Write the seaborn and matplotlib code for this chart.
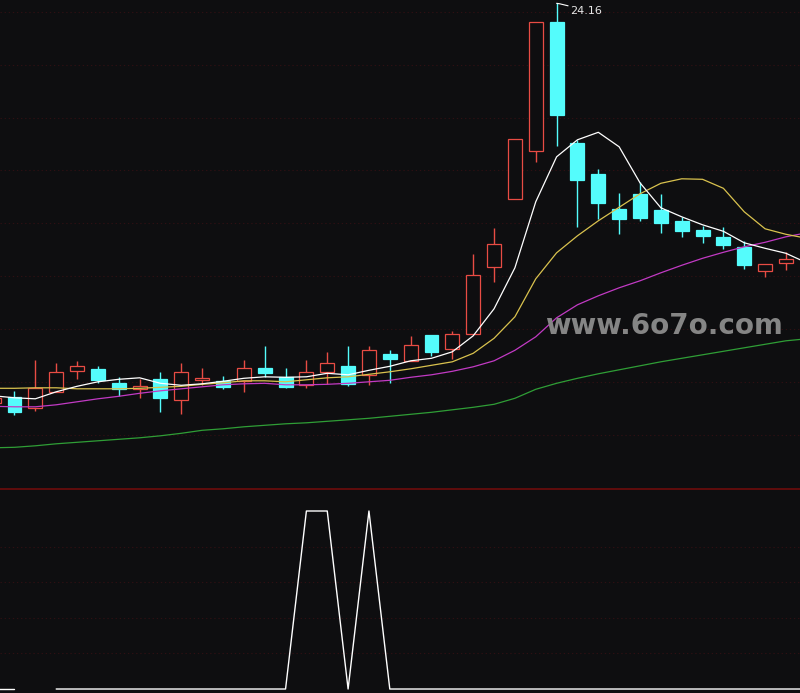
import numpy as np
import pandas as pd
import matplotlib
matplotlib.use("Agg")
import matplotlib.pyplot as plt
import seaborn as sns
from matplotlib.lines import Line2D

# ---------------- data ----------------
candle_day = list(range(-1, 38))
open_ = [16.17, 16.28, 16.07, 16.39, 16.81, 16.85, 16.57, 16.45, 16.65, 16.22,
         16.63, 16.60, 16.60, 16.87, 16.68, 16.53, 16.79, 16.91, 16.73, 17.15,
         17.00, 17.53, 17.24, 17.54, 18.88, 20.24, 21.21, 23.78, 21.37, 20.75,
         20.05, 20.35, 20.03, 19.81, 19.63, 19.49, 19.29, 18.81, 18.96]
close = [16.27, 15.99, 16.47, 16.78, 16.91, 16.63, 16.44, 16.51, 16.26, 16.78,
         16.67, 16.49, 16.87, 16.77, 16.49, 16.78, 16.97, 16.55, 17.23, 17.05,
         17.32, 17.19, 17.54, 18.72, 19.34, 21.44, 23.78, 21.93, 20.63, 20.17,
         19.85, 19.87, 19.77, 19.61, 19.51, 19.33, 18.93, 18.94, 19.05]
high = [16.31, 16.41, 17.03, 16.97, 17.01, 16.91, 16.68, 16.64, 16.79, 16.97,
        16.87, 16.71, 17.03, 17.31, 16.87, 17.03, 17.19, 17.31, 17.31, 17.23,
        17.51, 17.53, 17.61, 19.15, 19.66, 21.44, 23.78, 24.16, 21.43, 20.84,
        20.37, 20.59, 20.35, 19.88, 19.71, 19.68, 19.41, 18.94, 19.18]
low = [16.15, 15.93, 16.01, 16.39, 16.65, 16.57, 16.31, 16.26, 15.99, 15.95,
       16.53, 16.45, 16.39, 16.69, 16.46, 16.46, 16.54, 16.51, 16.53, 16.57,
       17.00, 17.11, 17.04, 17.54, 18.58, 20.24, 20.99, 21.31, 19.69, 19.85,
       19.55, 19.81, 19.57, 19.49, 19.37, 19.25, 18.85, 18.68, 18.83]

ma_day = list(range(-1, 39))
ma5 = [16.31, 16.27, 16.25, 16.39, 16.50, 16.59, 16.64, 16.67, 16.56, 16.52,
       16.55, 16.60, 16.66, 16.69, 16.68, 16.69, 16.76, 16.73, 16.82, 16.90,
       17.01, 17.06, 17.19, 17.51, 18.05, 18.87, 20.19, 21.09, 21.43, 21.58,
       21.29, 20.57, 20.07, 19.89, 19.73, 19.60, 19.37, 19.26, 19.16, 18.97]
ma10 = [16.46, 16.46, 16.47, 16.47, 16.45, 16.45, 16.45, 16.46, 16.48, 16.50,
        16.54, 16.57, 16.61, 16.61, 16.59, 16.63, 16.67, 16.69, 16.74, 16.79,
        16.85, 16.92, 16.99, 17.16, 17.46, 17.89, 18.65, 19.17, 19.51, 19.81,
        20.08, 20.35, 20.56, 20.65, 20.64, 20.46, 19.99, 19.65, 19.54, 19.46]
ma20 = [16.10, 16.09, 16.09, 16.13, 16.19, 16.25, 16.30, 16.36, 16.41, 16.45,
        16.49, 16.53, 16.55, 16.56, 16.53, 16.53, 16.54, 16.56, 16.59, 16.62,
        16.68, 16.73, 16.80, 16.89, 17.01, 17.22, 17.49, 17.87, 18.13, 18.31,
        18.47, 18.61, 18.77, 18.92, 19.06, 19.18, 19.29, 19.38, 19.49, 19.57]
ma60 = [15.27, 15.28, 15.31, 15.35, 15.38, 15.41, 15.44, 15.47, 15.51, 15.56,
        15.62, 15.65, 15.69, 15.72, 15.75, 15.77, 15.80, 15.83, 15.86, 15.90,
        15.94, 15.98, 16.03, 16.08, 16.14, 16.26, 16.44, 16.56, 16.66, 16.75,
        16.83, 16.91, 16.99, 17.06, 17.13, 17.20, 17.27, 17.34, 17.41, 17.45]

nan = np.nan
signal = [0, 0, nan, 0, 0, 0, 0, 0, 0, 0,
          0, 0, 0, 0, 0, 5, 5, 0, 5, 0,
          0, 0, 0, 0, 0, 0, 0, 0, 0, 0,
          0, 0, 0, 0, 0, 0, 0, 0, 0, 0]

max_label = "24.16"
watermark = "www.6o7o.com"

# ---------------- style ----------------
BG = "#0e0e10"
RED = "#e84c44"
CYAN = "#54fcfc"
GRID = "#2e1013"

sns.set_theme(style="dark", rc={"axes.facecolor": BG, "figure.facecolor": BG})
plt.rcParams["font.family"] = ["DejaVu Sans"]

fig = plt.figure(figsize=(8, 6.93), dpi=100)
ax1 = fig.add_axes([0, 204 / 693, 1, 489 / 693])
ax2 = fig.add_axes([0, 0, 1, 204 / 693])
for ax in (ax1, ax2):
    ax.set_facecolor(BG)
    ax.set_xticks([])
    ax.set_yticks([])
    for s in ax.spines.values():
        s.set_visible(False)
    ax.grid(False)

x_lo, x_hi = -0.6954, 37.674
ax1.set_xlim(x_lo, x_hi)
ax2.set_xlim(x_lo, x_hi)
ax1.set_ylim(14.446, 24.226)
ax2.set_ylim(-0.112, 5.618)

# grid lines
for g in [15.53, 16.58, 17.64, 18.70, 19.76, 20.82, 21.87, 22.93, 23.99]:
    ax1.axhline(g, color=GRID, lw=0.8, ls=(0, (1.2, 2.5)), zorder=0)
for g in [1, 2, 3, 4]:
    ax2.axhline(g, color=GRID, lw=0.8, ls=(0, (1.2, 2.5)), zorder=0)

# candles
cdf = pd.DataFrame({"day": candle_day, "open": open_, "close": close,
                    "high": high, "low": low})
up = (cdf["close"] >= cdf["open"]).to_numpy()
edge = np.where(up, RED, CYAN)
face = np.where(up, BG, CYAN)
ax1.vlines(cdf["day"], cdf["low"], cdf["high"], colors=edge, lw=1.0, zorder=2)
ax1.bar(cdf["day"], (cdf["close"] - cdf["open"]).abs(),
        bottom=cdf[["open", "close"]].min(axis=1), width=0.67,
        color=face, edgecolor=edge, linewidth=0.9, zorder=3)

# moving averages
mdf = pd.DataFrame({"day": ma_day, "ma5": ma5, "ma10": ma10,
                    "ma20": ma20, "ma60": ma60})
for col, c in [("ma60", "#2f9e36"), ("ma20", "#c23ac4"),
               ("ma10", "#d9c24e"), ("ma5", "#ffffff")]:
    sns.lineplot(data=mdf, x="day", y=col, color=c, lw=0.9, ax=ax1, zorder=4)

# max marker
ax1.plot([26.0, 26.15, 26.55], [24.16, 24.15, 24.11], color="white", lw=0.8, zorder=5)
ax1.text(26.66, 24.006, max_label, color="#e6e6e6", fontsize=8,
         ha="left", va="center", zorder=6)

# lower indicator
sdf = pd.DataFrame({"day": ma_day, "signal": signal})
sdf["seg"] = sdf["signal"].isna().cumsum()
sdf = sdf.dropna()
sns.lineplot(data=sdf, x="day", y="signal", units="seg", estimator=None,
             color="white", lw=1.0, ax=ax2, zorder=4)

for ax in (ax1, ax2):
    ax.set_xlabel("")
    ax.set_ylabel("")
    ax.set_xticks([])
    ax.set_yticks([])

# divider
fig.add_artist(Line2D([0, 1], [204 / 693, 204 / 693], transform=fig.transFigure,
                      color="#6e0c0c", lw=1.2))

# watermark
fig.text(545 / 800, 1 - 326 / 693, watermark, color="#858585", fontsize=20,
         fontweight="bold", ha="left", va="center", zorder=10)

fig.savefig("out.png", dpi=100, facecolor=BG)
